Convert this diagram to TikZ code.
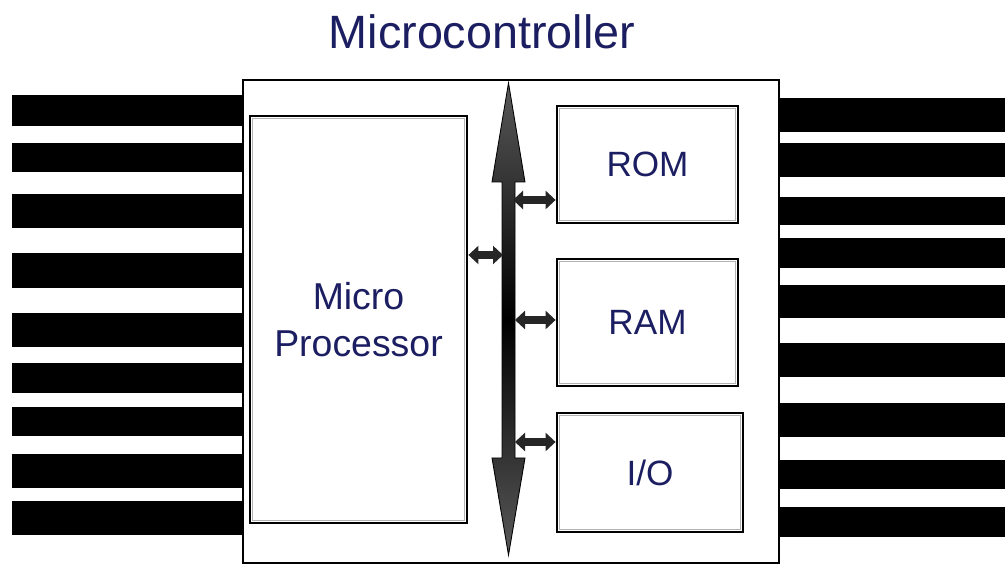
\documentclass[tikz,border=0pt]{standalone}
\usepackage{fontspec}
\setmainfont{Liberation Sans}
\usetikzlibrary{arrows.meta,positioning,calc}
\definecolor{navy}{RGB}{28,30,98}
\definecolor{pin}{RGB}{0,0,0}
\tikzset{
  unit/.style={draw=black,line width=1.6pt,fill=white,align=center,
    text=navy,font=\fontsize{#1}{27}\selectfont,inner sep=0pt},
  unit/.default=20,
  inset/.style={draw=gray!60,line width=0.6pt},
  link/.style={draw=black!85,line width=0.16cm,
    {Triangle[width=0.36cm,length=0.2cm]}-{Triangle[width=0.36cm,length=0.2cm]}},
  title/.style={text=navy,font=\fontsize{26.6}{30}\selectfont},
}

\begin{document}
\begin{tikzpicture}
  \useasboundingbox (0,0) rectangle (20.1,11.3);
  % pins
  \foreach \a/\b in {9.4/8.78,8.44/7.86,7.42/6.74,6.24/5.54,5.04/4.36,4.04/3.44,3.16/2.58,2.22/1.54,1.28/0.6}
    \fill[pin] (0.24,\a) rectangle (4.9,\b);
  \foreach \a/\b in {9.34/8.66,8.44/7.76,7.36/6.8,6.54/5.94,5.6/4.94,4.44/3.76,3.24/2.56,2.1/1.52,1.16/0.56}
    \fill[pin] (15.54,\a) rectangle (20.1,\b);
  % chip body
  \node[draw=black,line width=1.6pt,fill=white,minimum width=10.72cm,minimum height=9.66cm,
    inner sep=0pt] (chip) at (10.22,4.87) {};
  \node[title] (ttl) at (9.64,10.66) {Microcontroller};
  % blocks
  \node[unit=21.3,minimum width=4.34cm,minimum height=8.14cm] (mp) at (7.17,4.91) {Micro\\Processor};
  \node[unit,minimum width=3.62cm,minimum height=2.34cm] (rom) at (12.95,8.01) {ROM};
  \node[unit,minimum width=3.62cm,minimum height=2.54cm] (ram) at (12.95,4.85) {RAM};
  \node[unit,minimum width=3.72cm,minimum height=2.38cm] (io) at (13.0,1.85) {I/O};
  \foreach \n in {mp,rom,ram,io}
    \draw[inset] ([shift={(0.07,-0.07)}]\n.north west) rectangle ([shift={(-0.07,0.07)}]\n.south east);
  % bus
  \coordinate (bus) at (10.17,4.92);
  \draw[black,line width=0.5pt,top color=black!65,bottom color=black!65,middle color=black]
    (10.17,9.64) -- (10.5,7.66) -- (10.30,7.66) -- (10.30,2.14) -- (10.5,2.14) -- (10.17,0.2)
    -- (9.84,2.14) -- (10.04,2.14) -- (10.04,7.66) -- (9.84,7.66) -- cycle;
  \coordinate (busL) at (10.06,6.2);
  \coordinate (busR1) at (10.26,7.3);
  \coordinate (busR2) at (10.3,4.9);
  \coordinate (busR3) at (10.3,2.46);
  \draw[link] (mp.east |- busL) -- (busL);
  \draw[link] (busR1) -- (rom.west |- busR1);
  \draw[link] (busR2) -- (ram.west |- busR2);
  \draw[link] (busR3) -- (io.west |- busR3);
\end{tikzpicture}
\end{document}
